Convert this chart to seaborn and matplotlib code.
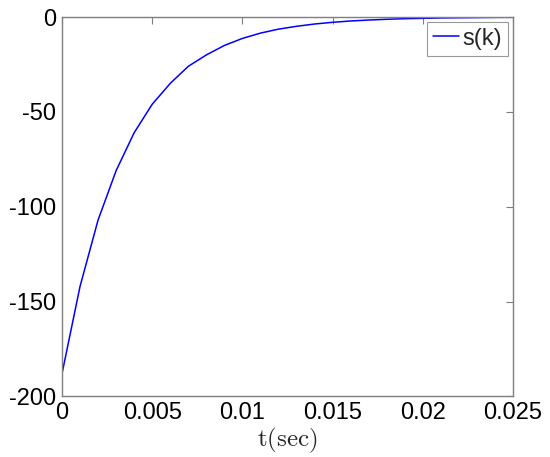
import matplotlib
matplotlib.use("Agg")
import matplotlib.pyplot as plt
import seaborn as sns
import pandas as pd

t_sec = [0.000, 0.001, 0.002, 0.003, 0.004, 0.005, 0.006, 0.007, 0.008, 0.009,
         0.010, 0.011, 0.012, 0.013, 0.014, 0.015, 0.016, 0.017, 0.018, 0.019,
         0.020, 0.021, 0.022, 0.023, 0.024, 0.025]
s_k = [-188, -142, -107, -81, -61, -46, -35, -26, -20, -15,
       -11.3, -8.5, -6.4, -4.9, -3.7, -2.8, -2.1, -1.6, -1.2, -0.9,
       -0.7, -0.5, -0.4, -0.3, -0.2, -0.15]
x_ticks = [0, 0.005, 0.01, 0.015, 0.02, 0.025]
x_tick_labels = ["0", "0.005", "0.01", "0.015", "0.02", "0.025"]
y_ticks = [-200, -150, -100, -50, 0]
y_tick_labels = ["-200", "-150", "-100", "-50", "0"]

sns.set_style("white")
plt.rcParams["font.family"] = ["Liberation Sans", "DejaVu Sans"]
plt.rcParams["mathtext.fontset"] = "cm"

df = pd.DataFrame({"t": t_sec, "s": s_k, "series": ["s(k)"] * len(t_sec)})

fig = plt.figure(figsize=(5.5, 4.57), dpi=100)
ax = fig.add_axes([0.1127, 0.1324, 0.82, 0.8304])

sns.lineplot(data=df, x="t", y="s", hue="series", palette=["#0000ff"],
             linewidth=1.1, ax=ax, legend=True)

ax.set_xlim(0, 0.025)
ax.set_ylim(-200, 0)
ax.set_xticks(x_ticks)
ax.set_xticklabels(x_tick_labels)
ax.set_yticks(y_ticks)
ax.set_yticklabels(y_tick_labels)
ax.tick_params(axis="both", which="both", direction="in", length=5,
               width=0.8, color="#7f7f7f", labelsize=17, labelcolor="black",
               top=True, right=True, pad=4)
for sp in ax.spines.values():
    sp.set_visible(True)
    sp.set_color("#7f7f7f")
    sp.set_linewidth(1.0)

ax.set_xlabel(r"$\mathrm{t(sec)}$", fontsize=18, labelpad=1)
ax.set_ylabel("")

leg = ax.legend(loc="upper right", fontsize=17, frameon=True, fancybox=False,
                handlelength=1.1, handletextpad=0.15, borderpad=0.25,
                borderaxespad=0.2)
leg.get_frame().set_edgecolor("#7f7f7f")
leg.get_frame().set_linewidth(0.8)

fig.savefig("out.png", dpi=100)
